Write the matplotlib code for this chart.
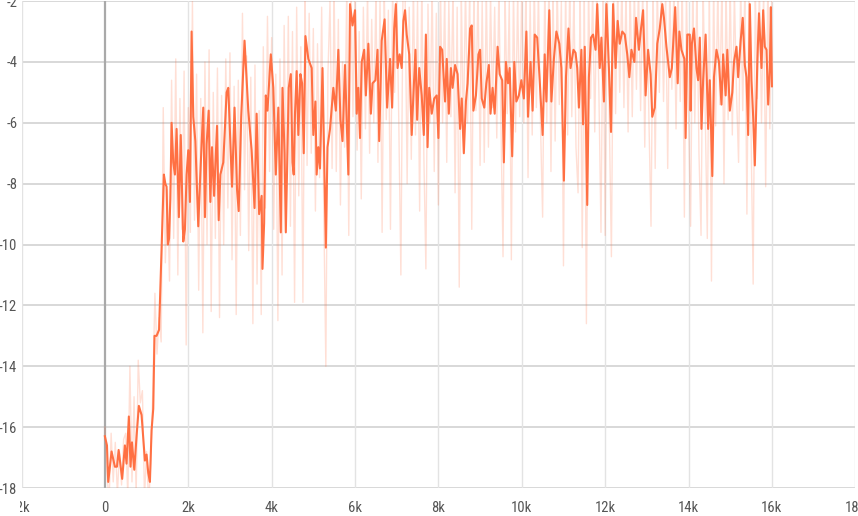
import matplotlib
matplotlib.use("Agg")
import matplotlib.pyplot as plt
from matplotlib.transforms import Bbox, TransformedBbox
from matplotlib import font_manager

# ---- data ----
smooth_steps = [0, 50, 80, 160, 240, 290, 330, 415, 480, 520, 575, 615, 650, 705, 760, 815, 880, 960, 1000, 1040,
                1080, 1120, 1160, 1190, 1240, 1300, 1340, 1380, 1415, 1450, 1480, 1510, 1540, 1570, 1600, 1640, 1680, 1720, 1775, 1820,
                1880, 1920, 1960, 2000, 2040, 2080, 2120, 2170, 2200, 2240, 2280, 2320, 2360, 2400, 2440, 2490, 2530, 2570, 2620, 2690,
                2730, 2770, 2840, 2920, 2960, 3050, 3110, 3170, 3210, 3270, 3350, 3400, 3440, 3520, 3590, 3640, 3700, 3760, 3780, 3820,
                3860, 3900, 3980, 4040, 4100, 4160, 4220, 4260, 4310, 4340, 4410, 4460, 4500, 4530, 4560, 4600, 4640, 4690, 4730, 4770,
                4810, 4880, 4960, 5000, 5050, 5080, 5120, 5160, 5220, 5300, 5340, 5400, 5480, 5540, 5600, 5650, 5700, 5760, 5840, 5880,
                5940, 6000, 6040, 6080, 6120, 6160, 6220, 6260, 6320, 6380, 6420, 6490, 6540, 6580, 6640, 6710, 6770, 6840, 6890, 6940,
                6980, 7020, 7070, 7120, 7160, 7200, 7240, 7300, 7360, 7400, 7450, 7490, 7540, 7600, 7650, 7700, 7740, 7780, 7840, 7900,
                7960, 8000, 8040, 8090, 8160, 8200, 8250, 8300, 8340, 8400, 8460, 8520, 8560, 8610, 8660, 8700, 8760, 8800, 8840, 8900,
                8960, 9000, 9040, 9100, 9150, 9210, 9250, 9300, 9350, 9420, 9470, 9530, 9570, 9620, 9670, 9710, 9770, 9820, 9870, 9930,
                9990, 10050, 10110, 10150, 10210, 10260, 10310, 10370, 10430, 10500, 10550, 10590, 10660, 10710, 10770, 10830, 10900, 10950, 11010, 11060,
                11120, 11170, 11240, 11290, 11330, 11370, 11430, 11470, 11510, 11570, 11610, 11660, 11710, 11770, 11810, 11870, 11910, 11970, 12030, 12090,
                12140, 12190, 12250, 12300, 12350, 12410, 12470, 12530, 12580, 12630, 12700, 12740, 12810, 12860, 12910, 12970, 13030, 13090, 13130, 13190,
                13250, 13310, 13370, 13410, 13470, 13550, 13600, 13680, 13740, 13780, 13830, 13900, 13930, 13970, 14030, 14050, 14080, 14130, 14190, 14230,
                14270, 14310, 14350, 14410, 14470, 14510, 14570, 14610, 14670, 14730, 14790, 14830, 14890, 14930, 14990, 15050, 15090, 15150, 15190, 15250,
                15300, 15350, 15390, 15430, 15470, 15510, 15550, 15590, 15650, 15690, 15750, 15790, 15830, 15870, 15910, 15950, 15975, 16000]
smooth_vals = [-16.3, -16.6, -17.8, -16.8, -17.3, -17.3, -16.75, -17.7, -16.6, -17.2, -15.65, -17.3, -16.5, -17.4, -16.3, -15.3, -15.6, -17.1, -16.9, -17.5,
               -17.8, -16.1, -15.4, -13.0, -13.0, -12.8, -11.0, -9.2, -7.7, -8.0, -8.1, -10.0, -9.8, -8.5, -6.0, -7.3, -7.7, -6.2, -9.1, -6.4,
               -9.9, -9.5, -7.7, -6.9, -8.6, -3.0, -5.8, -6.6, -7.8, -9.4, -8.0, -6.7, -5.5, -9.1, -6.7, -5.6, -8.6, -6.8, -8.4, -6.1,
               -9.2, -7.7, -7.3, -5.0, -4.85, -8.1, -5.5, -8.2, -8.9, -5.8, -3.3, -4.6, -5.6, -6.9, -8.8, -5.7, -9.0, -8.4, -10.8, -9.3,
               -5.1, -5.6, -3.75, -4.85, -7.7, -5.5, -9.6, -4.85, -7.0, -9.6, -4.85, -4.4, -7.3, -7.7, -5.7, -4.3, -6.4, -4.4, -4.7, -7.0,
               -3.15, -3.9, -4.2, -6.4, -5.3, -7.7, -6.8, -7.5, -4.2, -10.1, -6.8, -6.2, -4.85, -5.6, -3.6, -5.9, -6.6, -4.1, -7.7, -2.1,
               -2.8, -2.3, -5.7, -4.85, -6.5, -4.0, -3.6, -5.1, -3.4, -5.7, -4.7, -4.6, -3.6, -6.6, -3.3, -2.6, -5.5, -3.9, -5.5, -2.9,
               -2.1, -4.2, -3.75, -4.2, -2.65, -2.3, -3.1, -3.75, -6.4, -5.1, -3.6, -5.9, -4.2, -5.1, -6.4, -3.1, -6.8, -4.85, -5.7, -5.2,
               -5.1, -6.5, -3.5, -3.6, -5.3, -3.9, -5.7, -4.2, -4.85, -4.1, -4.4, -6.2, -5.2, -7.0, -5.3, -4.7, -2.9, -2.8, -5.6, -5.1,
               -3.75, -3.6, -5.2, -5.5, -4.7, -4.1, -5.7, -4.85, -5.7, -3.5, -4.4, -4.6, -7.3, -4.0, -4.7, -4.2, -7.1, -4.0, -5.3, -5.1,
               -4.6, -5.2, -3.0, -5.8, -4.0, -5.6, -3.1, -3.2, -4.6, -6.4, -3.75, -5.3, -2.3, -5.3, -3.9, -3.0, -3.4, -4.2, -7.9, -4.5,
               -2.9, -4.2, -3.6, -3.7, -4.2, -5.5, -3.6, -6.05, -3.5, -8.7, -4.5, -3.2, -3.1, -3.6, -2.1, -4.2, -3.2, -5.3, -2.1, -4.2,
               -6.3, -2.1, -4.2, -2.65, -3.4, -3.0, -3.1, -3.75, -4.5, -3.6, -4.0, -2.55, -3.6, -2.9, -2.3, -5.1, -3.6, -4.4, -5.8, -5.5,
               -3.4, -2.9, -2.1, -2.55, -3.5, -4.5, -4.2, -2.2, -4.7, -3.0, -3.6, -3.9, -6.5, -3.1, -3.1, -5.6, -3.4, -2.9, -4.2, -4.6,
               -3.2, -6.2, -4.6, -3.1, -6.2, -4.6, -7.75, -4.5, -3.6, -4.0, -5.4, -3.75, -5.1, -3.6, -5.6, -5.0, -4.0, -3.5, -4.5, -3.3,
               -2.55, -4.1, -4.5, -6.4, -2.1, -4.6, -5.8, -7.4, -4.0, -2.4, -4.2, -2.3, -3.5, -3.6, -5.4, -4.2, -2.2, -4.8]

raw_steps = list(range(0, 16001, 50))
raw_vals = [
    -16.0, -17.5, -18.5, -16.2, -17.8, -16.5, -18.2, -16.8, -17.9, -16.4,
    -16.2, -18.3, -14.0, -17.8, -15.0, -18.2, -13.8, -15.2, -14.8, -18.3,
    -16.8, -18.5, -17.2, -14.8, -11.6, -13.6, -12.4, -13.2, -5.5, -10.6,
    -8.2, -11.2, -4.6, -9.8, -3.9, -11.0, -5.2, -9.5, -4.3, -13.3,
    -5.5, -9.6, -2.0, -9.2, -4.4, -11.5, -5.2, -12.9, -4.0, -10.0,
    -3.6, -12.2, -5.0, -9.8, -4.2, -12.4, -5.1, -10.0, -3.9, -8.8,
    -3.7, -10.5, -4.8, -12.3, -4.6, -9.7, -2.4, -8.2, -3.8, -10.2,
    -4.5, -12.6, -4.1, -11.3, -5.6, -12.3, -3.5, -8.8, -2.5, -7.6,
    -3.2, -9.5, -4.4, -12.5, -3.9, -11.0, -2.8, -8.5, -2.5, -9.4,
    -3.0, -11.9, -2.2, -8.4, -3.5, -11.9, -1.6, -7.4, -2.4, -7.0,
    -2.9, -8.9, -3.4, -7.8, -2.2, -8.8, -14.0, -4.4, -2.0, -7.5,
    -1.8, -7.6, -2.6, -8.7, -4.0, -6.8, -1.8, -9.7, -1.5, -5.8,
    -1.6, -6.9, -3.0, -8.5, -2.2, -6.2, -1.7, -7.0, -2.6, -6.0,
    -1.8, -7.3, -2.0, -9.6, -1.5, -5.9, -2.3, -9.5, -1.6, -5.0,
    -1.5, -6.0, -11.0, -1.8, -1.6, -8.0, -2.2, -7.2, -1.5, -6.4,
    -2.0, -8.9, -1.6, -7.0, -10.8, -2.1, -6.0, -1.5, -7.6, -2.4,
    -8.7, -1.6, -6.0, -1.8, -7.3, -2.0, -5.8, -1.5, -8.3, -2.2,
    -11.4, -1.7, -6.5, -1.5, -6.0, -1.6, -9.5, -1.8, -5.6, -1.5,
    -7.4, -2.0, -7.3, -1.6, -6.8, -1.8, -5.5, -2.2, -6.5, -1.6,
    -6.0, -10.4, -1.8, -5.7, -2.0, -10.5, -1.5, -6.3, -1.9, -5.8,
    -1.6, -6.0, -1.5, -7.8, -2.0, -6.4, -1.5, -5.5, -1.7, -6.1,
    -9.1, -1.6, -6.0, -1.5, -7.6, -1.7, -6.6, -1.5, -5.4, -2.0,
    -10.7, -1.6, -6.4, -1.5, -5.8, -1.7, -6.8, -8.3, -1.6, -10.1,
    -1.8, -12.6, -1.5, -5.2, -1.6, -6.3, -1.5, -5.0, -9.6, -1.6,
    -9.7, -1.5, -6.0, -10.4, -1.5, -5.7, -1.6, -5.0, -1.5, -5.5,
    -1.7, -6.3, -1.5, -5.8, -1.6, -4.9, -1.5, -5.6, -1.6, -6.8,
    -1.8, -5.9, -9.4, -1.6, -7.5, -1.5, -5.0, -1.5, -5.3, -1.7,
    -7.5, -1.6, -4.9, -1.5, -6.2, -1.6, -5.3, -1.5, -9.1, -1.7,
    -5.8, -9.4, -1.5, -6.0, -1.6, -7.0, -9.7, -1.5, -5.6, -9.8,
    -1.6, -11.2, -1.5, -6.1, -1.7, -5.4, -1.5, -8.0, -1.6, -5.9,
    -1.5, -6.4, -1.7, -5.0, -7.3, -1.5, -5.6, -1.6, -9.0, -1.5,
    -6.4, -11.3, -1.6, -5.2, -1.5, -6.0, -1.7, -8.1, -1.6, -6.2,
    -1.5]

x_ticks = [-2000, 0, 2000, 4000, 6000, 8000, 10000, 12000, 14000, 16000, 18000]
x_tick_labels = ["-2k", "0", "2k", "4k", "6k", "8k", "10k", "12k", "14k", "16k", "18k"]
y_ticks = [-18, -16, -14, -12, -10, -8, -6, -4, -2]
y_tick_labels = ["-18", "-16", "-14", "-12", "-10", "-8", "-6", "-4", "-2"]

# ---- font choice: a narrow face if available ----
available = {f.name for f in font_manager.fontManager.ttflist}
label_font = "DejaVu Sans"
for cand in ["Liberation Sans Narrow", "Roboto Condensed", "DejaVu Sans Condensed", "Roboto"]:
    if cand in available:
        label_font = cand
        break

# ---- figure ----
W, H = 858, 516
fig = plt.figure(figsize=(W / 100, H / 100), dpi=100)
left = 21.5 / W
right = 855.3 / W
bottom = (H - 488) / H
top = (H - 1.1) / H
ax = fig.add_axes([left, bottom, right - left, top - bottom])

orange = "#ff7043"
ax.plot(raw_steps, raw_vals, color=orange, alpha=0.22, lw=1.0, zorder=2)
ax.plot(smooth_steps, smooth_vals, color=orange, lw=1.5, zorder=3)

ax.set_xlim(-2000, 18000)
ax.set_ylim(-18, -2)
ax.set_xticks(x_ticks)
ax.set_xticklabels(x_tick_labels)
ax.set_yticks(y_ticks)
ax.set_yticklabels(y_tick_labels)

for s in ax.spines.values():
    s.set_visible(False)

for yv in y_ticks:
    ax.axhline(yv, color="#d2d2d2", lw=1.2, zorder=1)
for xv in x_ticks:
    if xv == 0:
        ax.axvline(xv, color="#a9a9a9", lw=1.6, zorder=1)
    else:
        ax.axvline(xv, color="#e3e3e3", lw=1.0, zorder=1)

ax.tick_params(axis="both", length=0, labelsize=10.5, labelcolor="#555555")
ax.tick_params(axis="x", pad=9)
ax.tick_params(axis="y", pad=3)
for lab in ax.get_xticklabels() + ax.get_yticklabels():
    lab.set_fontfamily(label_font)

clip = TransformedBbox(Bbox([[19.5 / W, 0], [1, 1]]), fig.transFigure)
for lab in ax.get_xticklabels():
    lab.set_clip_on(True)
    lab.set_clip_box(clip)

fig.savefig("out.png", dpi=100)
